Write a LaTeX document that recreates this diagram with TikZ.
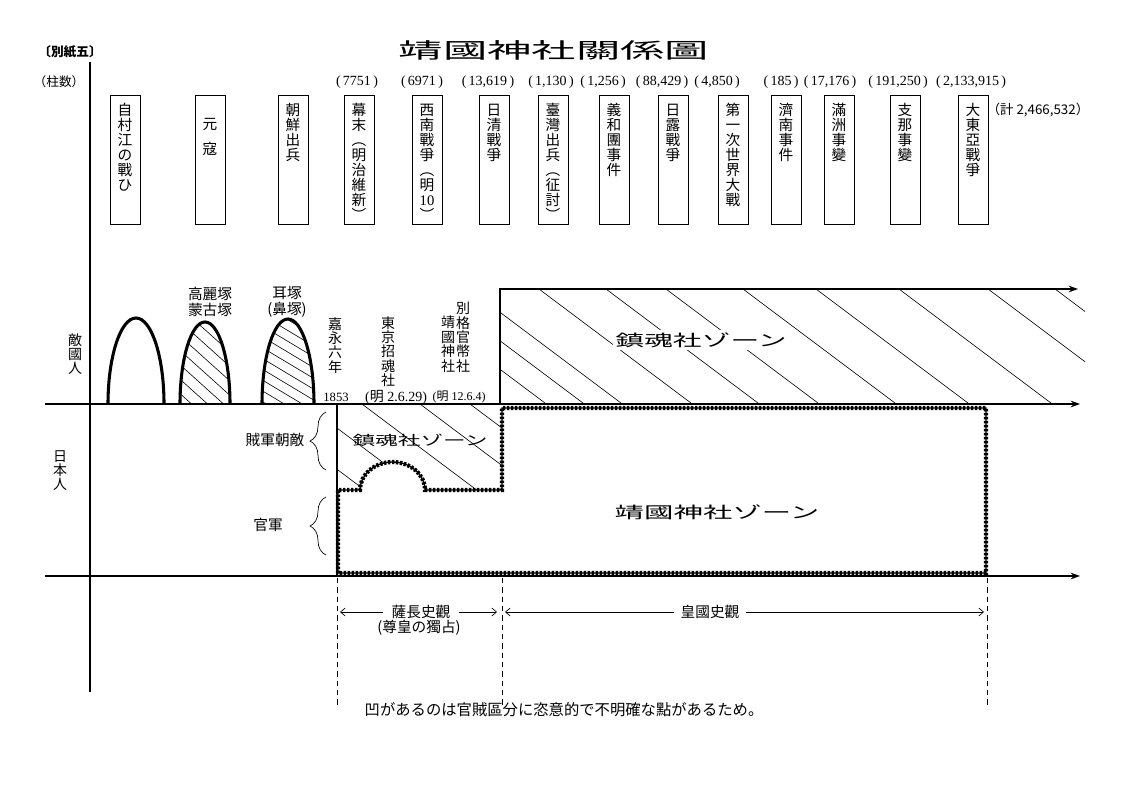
\documentclass[tikz,border=0pt]{standalone}
\usepackage{fontspec}
\usepackage{graphicx}
\setmainfont{Liberation Serif}
\newfontfamily\jp{Noto Sans CJK JP}
\usetikzlibrary{arrows.meta, decorations.pathreplacing}

\newcommand{\tate}[1]{\parbox[c][96.75pt][t]{22.5pt}{\centering\jp\fontsize{11}{11.3}\selectfont\rule{0pt}{15pt}#1}}

\begin{document}
\begin{tikzpicture}[x=0.75pt, y=-0.75pt,
evbox/.style = {draw, line width=0.6pt, inner sep=0pt, anchor=north},
count/.style = {font=\fontsize{10.5}{12}\selectfont, inner sep=0pt},
jlabel/.style = {font=\jp\fontsize{11}{12}\selectfont, inner sep=1pt},
vlabel/.style = {font=\jp\fontsize{10.5}{10.8}\selectfont, align=center, anchor=north, inner sep=0pt},
zonelabel/.style = {font=\jp\fontsize{12}{12}\selectfont, inner sep=2pt},
axis/.style = {line width=1.6pt},
axisarrow/.style = {axis, -{Stealth[length=7pt, width=5pt]}},
arch/.style = {line width=2.3pt},
hatch/.style = {line width=0.45pt},
zoneline/.style = {line width=3.2pt, dash pattern=on 1.8pt off 1.2pt, postaction={draw, solid, line width=1pt}},
guide/.style = {line width=0.5pt, dash pattern=on 4pt off 3pt},
histarrow/.style = {line width=0.5pt, -{Straight Barb[length=3.5pt, width=6pt]}},
brc/.style = {decorate, decoration={brace, amplitude=12pt}, line width=0.5pt}
]

\useasboundingbox (0,0) rectangle (1123,794);

\begin{scope}
\clip (500,289) rectangle (1085,404);
\foreach \s in {393,431,469,539,606,666,743,816,899,988,1055}
  \draw[hatch] (\s,289) -- ++(160,120);
\end{scope}

\begin{scope}
\clip (337,404) rectangle (502,490);
\foreach \s in {250,305,362,420,470}
  \draw[hatch] (\s,404) -- ++(160,120);
\end{scope}

\begin{scope}
\clip (180,404) arc[start angle=180, end angle=360, x radius=25, y radius=82] -- cycle;
\foreach \s in {80,96,...,240}
  \draw[hatch] (\s,318) -- ++(100,90);
\end{scope}

\begin{scope}
\clip (262,404) arc[start angle=180, end angle=360, x radius=26, y radius=85] -- cycle;
\foreach \s in {100,118,...,320}
  \draw[hatch] (\s,315) -- ++(150,90);
\end{scope}

\draw[arch] (108,404) arc[start angle=180, end angle=360, x radius=28, y radius=86];
\draw[arch] (180,404) arc[start angle=180, end angle=360, x radius=25, y radius=82];
\draw[arch] (262,404) arc[start angle=180, end angle=360, x radius=26, y radius=85];

\draw[axis] (90,62) -- (90,692);
\draw[axisarrow] (45,404) -- (1080,404);
\draw[axisarrow] (45,576) -- (1080,576);
\draw[axis] (337,404) -- (337,576);
\draw[axisarrow] (500,404) -- (500,289) -- (1078,289);

\draw[zoneline, fill=white] (338,573) -- (338,490) -- (360,490)
  arc[start angle=180, end angle=360, x radius=32.5, y radius=28]
  -- (502,490) -- (502,408) -- (986,408) -- (986,573) -- cycle;

\draw[guide] (337,578) -- (337,705);
\draw[guide] (502,578) -- (502,705);
\draw[guide] (987,578) -- (987,705);

\node (title) at (554,50) {\jp\fontsize{16}{16}\selectfont\scalebox{2.08}[1]{靖國神社關係圖}};
\node (bessi) at (70,52) {\jp\bfseries\fontsize{9.5}{10}\selectfont 〔別紙五〕};
\node (hashira) at (59,82) {\jp\fontsize{9.5}{10}\selectfont （柱数）};

\node (hakuson) at (125,95) [evbox] {\tate{自\\村\\江\\の\\戰\\ひ}};
\node (genko) at (210,95) [evbox] {\tate{\\[-1pt]元\\[8pt]寇}};
\node (chosen) at (293,95) [evbox] {\tate{朝\\鮮\\出\\兵}};
\node (bakumatsu) at (359,95) [evbox] {\tate{幕\\末\\︵\\明\\治\\維\\新\\︶}};
\node (seinan) at (427,95) [evbox] {\tate{西\\南\\戰\\爭\\︵\\明\\{\rmfamily 10}\\︶}};
\node (nisshin) at (494,95) [evbox] {\tate{日\\清\\戰\\爭}};
\node (taiwan) at (553,95) [evbox] {\tate{臺\\灣\\出\\兵\\︵\\征\\討\\︶}};
\node (giwadan) at (614,95) [evbox] {\tate{義\\和\\團\\事\\件}};
\node (nichiro) at (673,95) [evbox] {\tate{日\\露\\戰\\爭}};
\node (taisen) at (733,95) [evbox] {\tate{第\\一\\次\\世\\界\\大\\戰}};
\node (sainan) at (786,95) [evbox] {\tate{濟\\南\\事\\件}};
\node (manshu) at (839,95) [evbox] {\tate{滿\\洲\\事\\變}};
\node (shina) at (905,95) [evbox] {\tate{支\\那\\事\\變}};
\node (daitoa) at (973,95) [evbox] {\tate{大\\東\\亞\\戰\\爭}};

\node (c-bakumatsu) at (357,82) [count] {(\,7751\,)};
\node (c-seinan) at (422,82) [count] {(\,6971\,)};
\node (c-nisshin) at (488,82) [count] {(\,13,619\,)};
\node (c-taiwan) at (551,82) [count] {(\,1,130\,)};
\node (c-giwadan) at (603,82) [count] {(\,1,256\,)};
\node (c-nichiro) at (662,82) [count] {(\,88,429\,)};
\node (c-taisen) at (717,82) [count] {(\,4,850\,)};
\node (c-sainan) at (781,82) [count] {(\,185\,)};
\node (c-manshu) at (830,82) [count] {(\,17,176\,)};
\node (c-shina) at (898,82) [count] {(\,191,250\,)};
\node (c-daitoa) at (971,82) [count] {(\,2,133,915\,)};
\node (total) at (1038,110) {\jp\fontsize{10}{11}\selectfont （計 2,466,532）};

\node (tekikoku) at (75,333) [vlabel] {敵\\國\\人};
\node (nihonjin) at (60,450) [vlabel] {日\\本\\人};

\node (korai) at (210,302) [jlabel, align=center, font=\jp\fontsize{11}{11.5}\selectfont] {高麗塚\\蒙古塚};
\node (mimizuka) at (287,302) [jlabel, align=center, font=\jp\fontsize{11}{11.5}\selectfont] {耳塚\\(鼻塚)};

\node (kaei) at (335,317) [vlabel] {嘉\\永\\六\\年};
\node (shokonsha) at (388,316) [vlabel] {東\\京\\招\\魂\\社};
\node (bekkaku) at (463,302) [vlabel] {別\\格\\官\\幣\\社};
\node (yasukunicol) at (448,316) [vlabel] {靖\\國\\神\\社};

\node (y1853) at (336,397) [count, font=\fontsize{9.5}{10}\selectfont] {1853};
\node (meiji2) at (396,397) [count] {({\jp 明} 2.6.29)};
\node (meiji12) at (459,397) [count, font=\fontsize{9}{10}\selectfont] {({\jp 明} 12.6.4)};

\node (chinkon) at (701,340) [zonelabel, fill=white] {\scalebox{1.8}[1]{鎮魂社ゾーン}};
\node (chinkonlow) at (420,440) [zonelabel, font=\jp\fontsize{10}{10}\selectfont] {\scalebox{1.7}[1]{鎮魂社ゾーン}};
\node (yasukuni) at (717,512) [zonelabel] {\scalebox{1.84}[1]{靖國神社ゾーン}};

\node (zokugun) at (275,440) [jlabel] {賊軍朝敵};
\node (kangun) at (268,525) [jlabel] {官軍};
\draw[brc] (326,470) -- (326,412);
\draw[brc] (326,555) -- (326,497);

\node (satcho) at (421,612) [jlabel, inner xsep=6pt] {薩長史觀};
\node (sonno) at (419,628) [jlabel] {(尊皇の獨占)};
\node (kokoku) at (710,612) [jlabel, inner xsep=5pt] {皇國史觀};
\coordinate (satchoL) at (340,612);
\coordinate (satchoR) at (497,612);
\coordinate (kokokuL) at (505,612);
\coordinate (kokokuR) at (984,612);
\draw[histarrow] (satcho) -- (satchoL);
\draw[histarrow] (satcho) -- (satchoR);
\draw[histarrow] (kokoku) -- (kokokuL);
\draw[histarrow] (kokoku) -- (kokokuR);

\node (note) at (564,710) [jlabel, font=\jp\fontsize{11.5}{12}\selectfont] {凹があるのは官賊區分に恣意的で不明確な點があるため。};
\end{tikzpicture}
\end{document}
